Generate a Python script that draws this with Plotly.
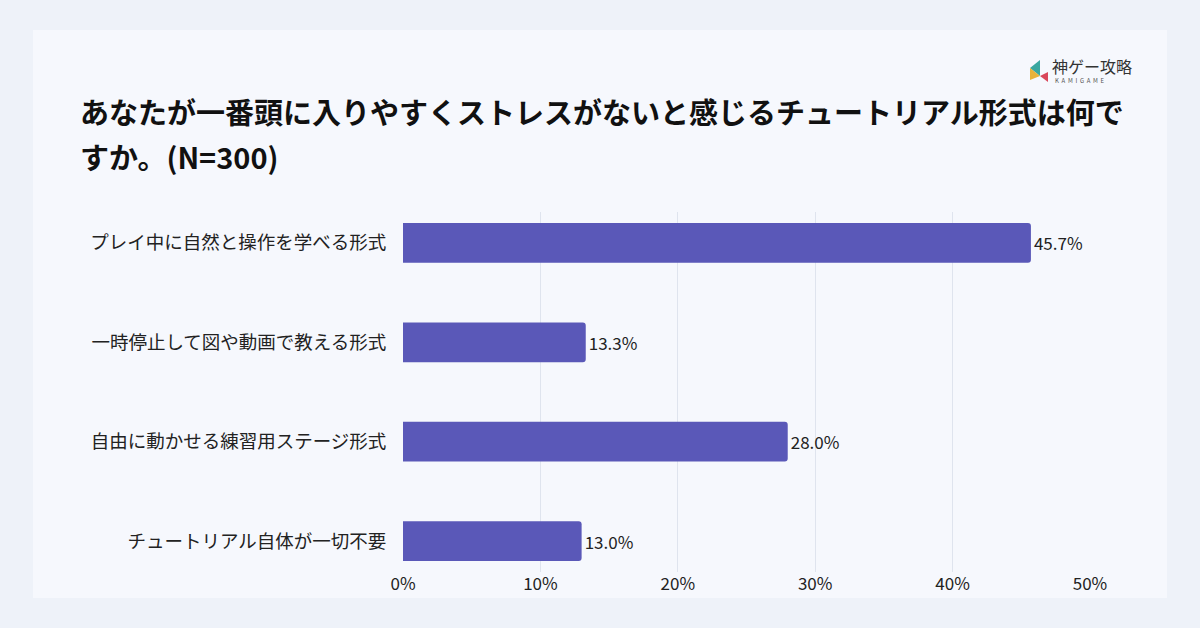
import plotly.graph_objects as go

categories = ["プレイ中に自然と操作を学べる形式", "一時停止して図や動画で教える形式",
              "自由に動かせる練習用ステージ形式", "チュートリアル自体が一切不要"]
values = [45.7, 13.3, 28.0, 13.0]
tick_vals = [0, 10, 20, 30, 40, 50]
tick_text = ["0%", "10%", "20%", "30%", "40%", "50%"]
title_lines = ["あなたが一番頭に入りやすくストレスがないと感じるチュートリアル形式は何で",
               "すか。(N=300)"]

font = "Noto Sans CJK JP"

fig = go.Figure(go.Bar(
    x=values, y=categories, orientation="h",
    marker=dict(color="#5a58b8", line=dict(width=0), cornerradius=3),
    width=0.4,
    text=[f"{v:.1f}%" for v in values], textposition="outside",
    textfont=dict(size=17, color="#222", family=font),
    cliponaxis=False,
))

fig.update_layout(
    width=1200, height=628,
    paper_bgcolor="#eef2f9", plot_bgcolor="rgba(0,0,0,0)",
    margin=dict(l=403, r=110, t=212, b=56, autoexpand=False),
    showlegend=False,
    font=dict(family=font, color="#222"),
    xaxis=dict(range=[0, 50], tickvals=tick_vals, ticktext=tick_text,
               showgrid=True, gridcolor="#dfe4ee", zeroline=False,
               tickfont=dict(size=17, color="#222"), ticks="", showline=False),
    yaxis=dict(range=[3.31, -0.31], tickfont=dict(size=18.5, color="#222"),
               ticks="outside", ticklen=12, tickcolor="rgba(0,0,0,0)", showgrid=False,
               zeroline=False),
)
# card background
fig.add_shape(type="rect", xref="x domain", yref="y domain",
              x0=-370 / 687, x1=(1167 - 403) / 687, y0=-(598 - 572) / 360, y1=(572 - 30) / 360,
              fillcolor="#f6f8fd", line=dict(width=0), layer="below")
for i, line in enumerate(title_lines):
    fig.add_annotation(xref="x domain", yref="y domain", x=-325 / 687,
                       y=(572 - (111 + 45 * i)) / 360,
                       xanchor="left", yanchor="middle", align="left", showarrow=False,
                       text=f"<b>{line}</b>",
                       font=dict(size=29, color="#111", family=font))
fig.add_annotation(xref="x domain", yref="y domain", x=(1050 - 403) / 687, y=(572 - 66) / 360,
                   xanchor="left", yanchor="middle", showarrow=False,
                   text="神ゲー攻略", font=dict(size=16, color="#333", family=font))
fig.add_annotation(xref="x domain", yref="y domain", x=(1053 - 403) / 687, y=(572 - 80) / 360,
                   xanchor="left", yanchor="middle", showarrow=False,
                   text="K  A  M  I  G  A  M  E", font=dict(size=6, color="#555", family=font))
icon = [("#3aa7a0", (1030, 68), (1040, 60), (1040, 76)),
        ("#e8b33a", (1030, 68), (1040, 76), (1030, 80)),
        ("#d9475a", (1040, 76), (1048, 72), (1048, 82))]
for col, a, b, c in icon:
    fig.add_shape(type="path", xref="x domain", yref="y domain",
                  path="M %f,%f L %f,%f L %f,%f Z" % (
                      (a[0] - 403) / 687, (572 - a[1]) / 360, (b[0] - 403) / 687, (572 - b[1]) / 360,
                      (c[0] - 403) / 687, (572 - c[1]) / 360),
                  fillcolor=col, line=dict(width=0))

fig.write_html("out.html", config={"displayModeBar": False},
               post_script="document.body.style.margin='0';")
